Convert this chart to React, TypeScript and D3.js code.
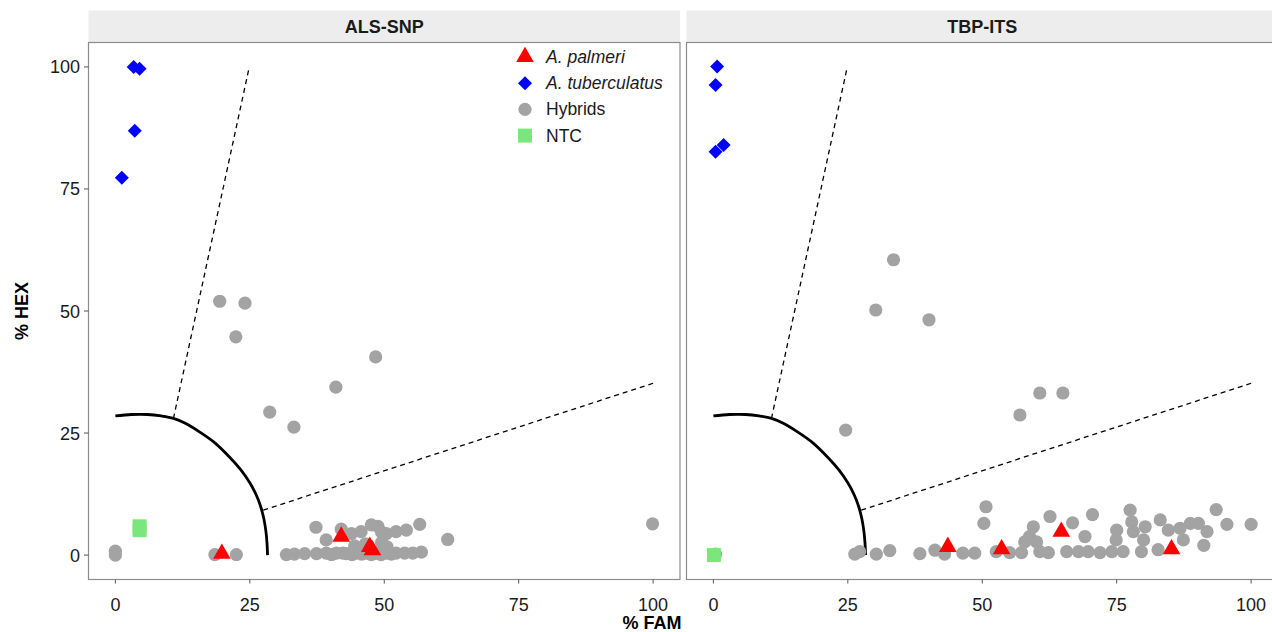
import React, { useEffect, useRef } from 'react';
import * as d3 from 'd3';

// [% FAM, % HEX]
const alsHybrids = [
  [0, 0.8], [0, 0], [18.5, 0.1], [22.5, 0.1],
  [19.4, 52], [24.1, 51.6], [22.4, 44.7], [28.7, 29.3], [33.2, 26.2], [41, 34.4], [48.4, 40.6],
  [31.8, 0.1], [33.3, 0.2], [35.2, 0.3], [37.4, 0.3], [39.2, 0.4], [40.2, 0.1], [41.1, 0.4], [42.3, 0.4],
  [43, 0.3], [44, 0.1], [44.8, 0.4], [45.8, 0.2], [46.7, 0.4], [47.6, 0.1], [48.5, 0.4], [49.4, 0.1],
  [50.4, 0.4], [51.3, 0.2], [52.2, 0.4], [53.8, 0.4], [55.3, 0.4], [56.9, 0.6],
  [39.2, 3.1], [44.5, 1.9], [46.5, 2.3], [49.5, 2.6], [50.5, 1.7],
  [37.3, 5.7], [42, 5.3], [43.9, 4.4], [45.7, 4.8], [47.6, 6.2], [48.8, 5.9], [49.5, 4.7], [50.4, 4.4],
  [52.2, 4.8], [54.1, 5.1], [56.6, 6.3], [61.8, 3.2], [99.9, 6.4]
];
const alsPalmeri = [[19.8, 0.3], [42, 3.8], [47.3, 1.7], [47.8, 1]];
const alsTuberculatus = [[3.4, 100], [4.5, 99.6], [3.6, 86.9], [1.2, 77.3]];
const alsNtc = [[4.5, 5.9], [4.5, 5.1]];

const tbpHybrids = [
  [0.4, 0.2], [26.3, 0.2], [27.2, 0.7], [30.3, 0.2], [32.8, 0.9], [38.4, 0.3], [41.2, 1], [43, 0.2],
  [46.4, 0.4], [48.6, 0.4], [50.7, 9.9], [50.3, 6.5],
  [24.6, 25.6], [30.2, 50.2], [33.5, 60.5], [40.1, 48.2], [57, 28.7], [60.7, 33.2], [65, 33.2],
  [52.6, 0.7], [55.1, 0.5], [57.3, 0.5], [57.9, 2.7], [58.8, 3.8], [59.5, 5.8], [60.1, 2.7], [60.7, 0.7],
  [62.3, 0.5], [62.6, 7.9], [66.8, 6.6], [65.7, 0.7], [67.9, 0.7], [69.1, 3.8], [70.5, 8.3], [69.7, 0.7],
  [71.9, 0.5], [74.1, 0.7], [74.9, 3.1], [75, 5.1], [76.2, 0.7], [77.5, 9.2], [77.8, 6.8], [78.1, 4.8],
  [80.3, 5.8], [80, 3.1], [79.6, 0.7], [83.1, 7.2], [82.7, 1.1], [84.6, 5.1], [86.8, 5.5], [87.4, 3.1],
  [88.7, 6.5], [90.2, 6.5], [91.8, 4.8], [91.2, 2], [93.5, 9.3], [95.5, 6.3], [100, 6.3]
];
const tbpPalmeri = [[43.6, 1.7], [53.6, 1.2], [64.7, 4.8], [85.2, 1.2]];
const tbpTuberculatus = [[0.7, 100.1], [0.4, 96.3], [0.4, 82.6], [1.9, 84]];
const tbpNtc = [[0.1, 0]];

// classification boundaries (same in both panels)
const boundaryCurve = [
  [0, 28.5], [3, 28.8], [6, 28.8], [8.5, 28.5], [10.8, 28], [13, 27], [15.7, 25.2],
  [18.5, 23], [21.3, 20], [23.3, 17.5], [25, 14.8], [26.2, 12.3], [27, 10], [27.6, 7.5],
  [28, 4.8], [28.2, 2.4], [28.3, 0]
];
const upperDash = [[10.8, 28], [24.9, 100]];
const lowerDash = [[27.5, 9.2], [100, 35.2]];

const panels = [
  { title: 'ALS-SNP', hybrids: alsHybrids, palmeri: alsPalmeri, tuber: alsTuberculatus, ntc: alsNtc },
  { title: 'TBP-ITS', hybrids: tbpHybrids, palmeri: tbpPalmeri, tuber: tbpTuberculatus, ntc: tbpNtc }
];
const ticks = [0, 25, 50, 75, 100];
const legendItems = [
  { label: 'A. palmeri', shape: 'triangle', color: '#ff0000', italic: true },
  { label: 'A. tuberculatus', shape: 'diamond', color: '#0000ff', italic: true },
  { label: 'Hybrids', shape: 'circle', color: '#a3a3a3', italic: false },
  { label: 'NTC', shape: 'square', color: '#7be67b', italic: false }
];

const FONT = '"Liberation Sans", Arial, Helvetica, sans-serif';

const App = () => {
  const ref = useRef<SVGSVGElement>(null);

  useEffect(() => {
    const svg = d3.select(ref.current);
    svg.selectAll('*').remove();

    const top = 42.5;
    const bottom = 579.5;
    const xRanges = [[88.5, 680], [686.5, 1278]];
    const y = d3.scaleLinear().domain([-5, 105]).range([bottom, top]);

    const tri = d3.symbol().type(d3.symbolTriangle).size(135)();
    const diamond = 'M0,-7L7,0L0,7L-7,0Z';
    const square = 'M-7,-7H7V7H-7Z';

    const drawShape = (g, shape, color, cx, cy) => {
      if (shape === 'circle') {
        g.append('circle').attr('cx', cx).attr('cy', cy).attr('r', 6.6).attr('fill', color);
      } else {
        const d = shape === 'triangle' ? tri : shape === 'diamond' ? diamond : square;
        g.append('path').attr('d', d).attr('transform', `translate(${cx},${cy})`).attr('fill', color);
      }
    };

    panels.forEach((p, i) => {
      const x = d3.scaleLinear().domain([-5, 105]).range(xRanges[i]);
      const g = svg.append('g');
      const [x0, x1] = xRanges[i];

      // strip
      g.append('rect').attr('x', x0).attr('y', 10.5).attr('width', x1 - x0).attr('height', top - 10.5)
        .attr('fill', '#ededed');
      g.append('text').attr('x', (x(0) + x(100)) / 2).attr('y', 33).attr('text-anchor', 'middle')
        .attr('font-family', FONT).attr('font-size', 18).attr('font-weight', 'bold').attr('fill', '#1a1a1a')
        .text(p.title);

      // panel
      g.append('rect').attr('x', x0).attr('y', top).attr('width', x1 - x0).attr('height', bottom - top)
        .attr('fill', '#fff').attr('stroke', '#8c8c8c').attr('stroke-width', 1.2);

      // x axis
      ticks.forEach((t) => {
        g.append('line').attr('x1', x(t)).attr('x2', x(t)).attr('y1', bottom).attr('y2', bottom + 4)
          .attr('stroke', '#555');
        g.append('text').attr('x', x(t)).attr('y', bottom + 31).attr('text-anchor', 'middle')
          .attr('font-family', FONT).attr('font-size', 18).attr('fill', '#1a1a1a').text(t);
      });

      // boundaries
      const line = d3.line().x((d) => x(d[0])).y((d) => y(d[1]));
      g.append('path').attr('d', line.curve(d3.curveCatmullRom.alpha(0.5))(boundaryCurve)).attr('fill', 'none')
        .attr('stroke', '#000').attr('stroke-width', 2.8);
      [upperDash, lowerDash].forEach((seg) => {
        g.append('path').attr('d', d3.line().x((d) => x(d[0])).y((d) => y(d[1]))(seg))
          .attr('fill', 'none').attr('stroke', '#000').attr('stroke-width', 1.3)
          .attr('stroke-dasharray', '5,4');
      });

      // points
      p.hybrids.forEach((d) => drawShape(g, 'circle', '#a3a3a3', x(d[0]), y(d[1])));
      p.palmeri.forEach((d) => drawShape(g, 'triangle', '#ff0000', x(d[0]), y(d[1])));
      p.tuber.forEach((d) => drawShape(g, 'diamond', '#0000ff', x(d[0]), y(d[1])));
      p.ntc.forEach((d) => drawShape(g, 'square', '#7be67b', x(d[0]), y(d[1])));
    });

    // y axis
    ticks.forEach((t) => {
      svg.append('line').attr('x1', 84).attr('x2', 88.5).attr('y1', y(t)).attr('y2', y(t)).attr('stroke', '#555');
      svg.append('text').attr('x', 80).attr('y', y(t) + 6.5).attr('text-anchor', 'end')
        .attr('font-family', FONT).attr('font-size', 18).attr('fill', '#1a1a1a').text(t);
    });

    // axis titles
    svg.append('text').attr('transform', `translate(28,${(top + bottom) / 2}) rotate(-90)`)
      .attr('text-anchor', 'middle').attr('font-family', FONT).attr('font-size', 18)
      .attr('font-weight', 'bold').attr('fill', '#000').text('% HEX');
    svg.append('text').attr('x', 652).attr('y', 629).attr('text-anchor', 'middle')
      .attr('font-family', FONT).attr('font-size', 18).attr('font-weight', 'bold').attr('fill', '#000')
      .text('% FAM');

    // legend
    const lg = svg.append('g');
    legendItems.forEach((item, k) => {
      const cy = 57 + k * 26.2;
      drawShape(lg, item.shape, item.color, 525, cy);
      lg.append('text').attr('x', 546).attr('y', cy + 6).attr('font-family', FONT).attr('font-size', 17.5)
        .attr('font-style', item.italic ? 'italic' : 'normal').attr('fill', '#1a1a1a').text(item.label);
    });
  }, []);

  return (
    <svg ref={ref} width={1272} height={632} style={{ position: 'absolute', left: 0, top: 0, background: '#fff' }} />
  );
};

export default App;
